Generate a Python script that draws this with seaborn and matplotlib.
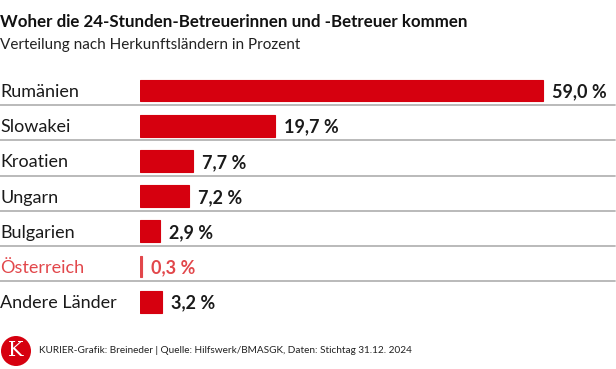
import matplotlib
matplotlib.use("Agg")
import matplotlib.pyplot as plt
import matplotlib.transforms as mtransforms
from matplotlib.patches import Circle
from matplotlib.lines import Line2D
import pandas as pd
import seaborn as sns

# data
countries = ["Rumänien", "Slowakei", "Kroatien", "Ungarn", "Bulgarien", "Österreich", "Andere Länder"]
shares = [59.0, 19.7, 7.7, 7.2, 2.9, 0.3, 3.2]
highlight = "Österreich"

title = "Woher die 24-Stunden-Betreuerinnen und -Betreuer kommen"
subtitle = "Verteilung nach Herkunftsländern in Prozent"
footer = "KURIER-Grafik: Breineder | Quelle: Hilfswerk/BMASGK, Daten: Stichtag 31.12. 2024"

RED = "#d6000f"
LIGHT_RED = "#e2474b"
GREY_LINE = "#b4b4b4"

sns.set_style("white")
plt.rcParams["font.family"] = ["Lato", "DejaVu Sans"]

df = pd.DataFrame({"land": countries, "anteil": shares})
palette = {c: (LIGHT_RED if c == highlight else RED) for c in countries}

W, H = 616, 369
fig = plt.figure(figsize=(W / 100, H / 100), dpi=100)

# bar area in pixel coordinates
left_px, top_px, bottom_px = 140, 72.9, 319.3
ax = fig.add_axes([left_px / W, 1 - bottom_px / H, 1 - left_px / W, (bottom_px - top_px) / H])

sns.barplot(data=df, x="anteil", y="land", hue="land", palette=palette,
            orient="h", width=0.62, legend=False, saturation=1, ax=ax)
# thin edge in the fill colour so the tiny Österreich bar stays visible
for p in ax.patches:
    p.set_edgecolor(p.get_facecolor())
    p.set_linewidth(0.8)
ax.set_xlim(0, (W - left_px) / 6.83)
ax.set_ylim(len(countries) - 0.5, -0.5)
ax.axis("off")

blend = mtransforms.blended_transform_factory(fig.transFigure, ax.transData)
val_offset = mtransforms.offset_copy(ax.transData, fig=fig, x=9, y=0, units="dots")

for i, (land, v) in enumerate(zip(countries, shares)):
    col = LIGHT_RED if land == highlight else "#1a1a1a"
    fig.text(0.0, i, land, transform=blend, fontsize=13, color=col,
             va="center_baseline", ha="left")
    lbl = f"{v:.1f} %".replace(".", ",")
    ax.text(v, i, lbl, transform=val_offset, fontsize=13, fontweight="bold",
            color=col, va="center_baseline", ha="left")
    # separator below each row except the last
    if i < len(countries) - 1:
        fig.add_artist(Line2D([0, 615 / W], [i + 0.42, i + 0.42], transform=blend,
                              color=GREY_LINE, lw=1.3))

fig.text(0.0, 1 - 27 / H, title, fontsize=12.2, fontweight="bold", color="#111111",
         va="baseline", ha="left")
fig.text(0.0, 1 - 49 / H, subtitle, fontsize=11, color="#222222",
         va="baseline", ha="left")

# KURIER logo and source line (circle placed in inches so it stays round)
fig.add_artist(Circle((0.16, (H - 351) / 100), 0.15, transform=fig.dpi_scale_trans,
                      facecolor=RED, edgecolor="none"))
fig.text(16 / W, 1 - 351 / H, "K", fontsize=15, color="white", family="DejaVu Serif",
         ha="center", va="center")
fig.text(39 / W, 1 - 353 / H, footer, fontsize=7.2, color="#222222",
         ha="left", va="baseline")

fig.savefig("out.png", dpi=100)
